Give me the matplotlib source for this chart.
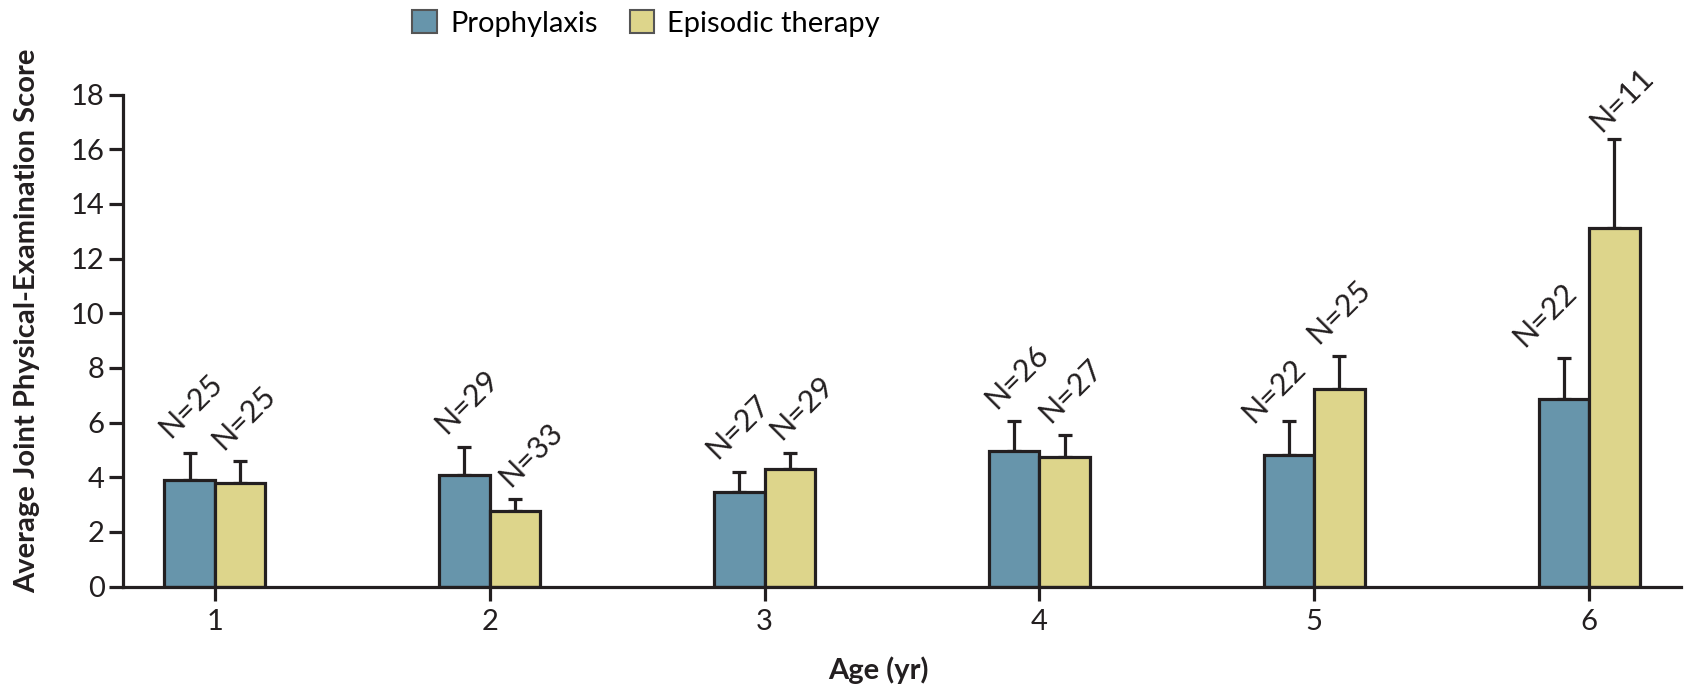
import matplotlib
matplotlib.use("Agg")
import matplotlib.pyplot as plt
import numpy as np

ages = [1, 2, 3, 4, 5, 6]
tick_labels = ["1", "2", "3", "4", "5", "6"]
series_names = ["Prophylaxis", "Episodic therapy"]
prophylaxis_mean = [3.92, 4.08, 3.45, 4.95, 4.80, 6.87]
prophylaxis_upper = [4.90, 5.11, 4.18, 6.06, 6.05, 8.37]
episodic_mean = [3.80, 2.77, 4.32, 4.76, 7.23, 13.12]
episodic_upper = [4.59, 3.20, 4.90, 5.54, 8.45, 16.37]
prophylaxis_n = [25, 29, 27, 26, 22, 22]
episodic_n = [25, 33, 29, 27, 25, 11]

# label placement nudges (pixels, relative to the error-bar cap)
prophylaxis_label_nudge = [(1, 47), (2, 45), (-2, 46), (3, 44.5), (-15, 31), (-19, 43)]
episodic_label_nudge = [(4, 44), (16, 45), (12, 45), (6, 45), (-1, 44.5), (7, 39.5)]

colors = ["#6795AB", "#DDD58B"]
edge = "#231F20"
FS = 21
DPI = 100

plt.rcParams['font.family'] = ['Lato', 'DejaVu Sans']

fig = plt.figure(figsize=(16.85, 6.91), dpi=DPI)
ax = fig.add_axes([0.0728, 0.151, 0.925, 0.712])

x = np.array(ages, dtype=float)
w = 0.183
means = [prophylaxis_mean, episodic_mean]
uppers = [prophylaxis_upper, episodic_upper]
ns = [prophylaxis_n, episodic_n]
nudges = [prophylaxis_label_nudge, episodic_label_nudge]
offsets = [-w / 2, w / 2]
px2pt = 72 / DPI

for i in range(2):
    xs = x + offsets[i]
    m = np.array(means[i])
    u = np.array(uppers[i])
    ax.bar(xs, m, width=w, color=colors[i], edgecolor=edge, linewidth=2.3,
           label=series_names[i], zorder=3)
    ax.errorbar(xs, m, yerr=[np.zeros_like(m), u - m], fmt='none',
                ecolor=edge, elinewidth=2.3, capsize=5, capthick=2.3, zorder=2)
    for xi, ui, ni, (dx, dy) in zip(xs, u, ns[i], nudges[i]):
        ax.annotate(f"N={ni}", xy=(xi, ui), xytext=(dx * px2pt, dy * px2pt),
                    textcoords='offset points', rotation=45,
                    ha='center', va='center', fontsize=FS + 1, color='#231F20',
                    rotation_mode='anchor', zorder=6)

ax.set_xlim(0.665, 6.335)
ax.set_ylim(0, 18)
ax.set_yticks(np.arange(0, 19, 2))
ax.set_xticks(x)
ax.set_xticklabels(tick_labels)

for s in ['top', 'right']:
    ax.spines[s].set_visible(False)
for s in ['left', 'bottom']:
    ax.spines[s].set_linewidth(2.3)
    ax.spines[s].set_color(edge)
    ax.spines[s].set_zorder(4)

ax.tick_params(axis='both', direction='out', length=10, width=2.3,
               color=edge, labelsize=FS, labelcolor='#231F20')
ax.tick_params(axis='x', pad=6)
ax.tick_params(axis='y', pad=3)

fig.text(27 / 1685, 1 - 321 / 691, "Average Joint Physical-Examination Score",
         rotation=90, ha='center', va='center', fontsize=FS,
         fontweight='bold', color='#231F20')
fig.text(878 / 1685, 1 - 679 / 691, "Age (yr)", ha='center', va='baseline',
         fontsize=FS, fontweight='bold', color='#231F20')

leg = fig.legend(loc='upper left', bbox_to_anchor=(412 / 1685, 1 - 10 / 691),
                 ncol=2, frameon=False, fontsize=FS, handlelength=0.85,
                 handleheight=0.85, handletextpad=0.45, columnspacing=1.1,
                 borderpad=0, borderaxespad=0)
for h in leg.legend_handles:
    h.set_edgecolor('#555555')
    h.set_linewidth(1.5)

fig.savefig("out.png", dpi=DPI)
